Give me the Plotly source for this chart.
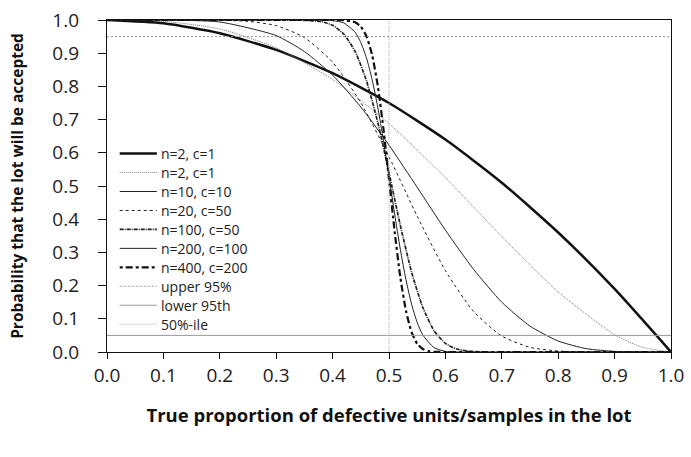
import plotly.graph_objects as go

# ---- data ----
x_n2 = [0, 0.1, 0.2, 0.3, 0.4, 0.5, 0.6, 0.7, 0.8, 0.9, 1.0]
y_n2 = [1.0, 0.99, 0.96, 0.91, 0.84, 0.75, 0.64, 0.51, 0.36, 0.19, 0.0]

x_n2b = [0, 0.1, 0.2, 0.3, 0.4, 0.5, 0.6, 0.7, 0.8, 0.9, 0.95, 1.0]
y_n2b = [1.0, 0.996, 0.973, 0.916, 0.821, 0.688, 0.525, 0.348, 0.181, 0.052, 0.014, 0.0]

x_n10 = [0, 0.1, 0.2, 0.3, 0.35, 0.4, 0.45, 0.5, 0.55, 0.6, 0.65, 0.7, 0.75, 0.8, 0.85, 0.9, 0.95, 1.0]
y_n10 = [1.0, 1.0, 0.994, 0.953, 0.905, 0.834, 0.738, 0.623, 0.496, 0.367, 0.249, 0.150, 0.078, 0.033, 0.010, 0.002, 0.0, 0.0]

x_n20 = [0, 0.15, 0.2, 0.25, 0.3, 0.35, 0.4, 0.45, 0.5, 0.55, 0.6, 0.65, 0.7, 0.75, 0.8, 0.85, 0.9, 1.0]
y_n20 = [1.0, 1.0, 0.999, 0.996, 0.983, 0.947, 0.873, 0.751, 0.588, 0.409, 0.245, 0.122, 0.048, 0.014, 0.003, 0.0, 0.0, 0.0]

x_n100 = [0, 0.3, 0.35, 0.38, 0.4, 0.42, 0.44, 0.46, 0.48, 0.5, 0.52, 0.54, 0.56, 0.58, 0.6, 0.62, 0.64, 0.66, 0.7, 1.0]
y_n100 = [1.0, 1.0, 0.999, 0.995, 0.984, 0.957, 0.905, 0.817, 0.692, 0.540, 0.382, 0.241, 0.134, 0.064, 0.026, 0.009, 0.003, 0.0005, 0.0, 0.0]

x_n200 = [0, 0.35, 0.4, 0.42, 0.44, 0.45, 0.46, 0.47, 0.48, 0.49, 0.5, 0.51, 0.52, 0.53, 0.54, 0.55, 0.56, 0.58, 0.6, 0.62, 1.0]
y_n200 = [1.0, 1.0, 0.998, 0.991, 0.963, 0.932, 0.886, 0.821, 0.738, 0.638, 0.528, 0.416, 0.310, 0.218, 0.144, 0.089, 0.051, 0.013, 0.002, 0.0, 0.0]

x_n400 = [0, 0.4, 0.42, 0.44, 0.45, 0.46, 0.47, 0.48, 0.49, 0.5, 0.51, 0.52, 0.53, 0.54, 0.55, 0.56, 0.57, 0.58, 0.6, 1.0]
y_n400 = [1.0, 1.0, 0.9995, 0.993, 0.980, 0.951, 0.895, 0.803, 0.674, 0.520, 0.363, 0.226, 0.125, 0.060, 0.025, 0.009, 0.003, 0.0006, 0.0, 0.0]

upper_level = 0.95
lower_level = 0.05
median_p = 0.5

x_ticks = [0.0, 0.1, 0.2, 0.3, 0.4, 0.5, 0.6, 0.7, 0.8, 0.9, 1.0]
y_ticks = [0.0, 0.1, 0.2, 0.3, 0.4, 0.5, 0.6, 0.7, 0.8, 0.9, 1.0]

# ---- layout constants (pixels) ----
W, H = 691, 457
ML, MR, MT, MB = 107, 7, 14, 105
PW, PH = W - ML - MR, H - MT - MB

FONT = "Open Sans"

# ---- figure ----
fig = go.Figure()

styles = []  # (name, color, width, dash)

def add(x, y, name, color, width, dash, spline=True):
    fig.add_trace(go.Scatter(x=x, y=y, mode="lines", name=name, showlegend=False,
                             line=dict(color=color, width=width, dash=dash,
                                       shape="spline" if spline else "linear", smoothing=0.6)))
    styles.append((name, color, width, dash))

add(x_n2, y_n2, "n=2, c=1", "#111111", 2.5, "solid")
add(x_n2b, y_n2b, "n=2, c=1", "#777777", 1.0, "1px,1px")
add(x_n10, y_n10, "n=10, c=10", "#222222", 1.0, "solid")
add(x_n20, y_n20, "n=20, c=50", "#222222", 1.0, "3px,3px")
add(x_n100, y_n100, "n=100, c=50", "#222222", 1.7, "4px,1px,1px,1px")
add(x_n200, y_n200, "n=200, c=100", "#222222", 1.0, "solid")
add(x_n400, y_n400, "n=400, c=200", "#111111", 2.2, "3px,3px,7px,3px")
add([0, 1], [upper_level, upper_level], "upper 95%", "#999999", 1.0, "2px,2px", False)
add([0, 1], [lower_level, lower_level], "lower 95th", "#9a9a9a", 1.0, "solid", False)
add([median_p, median_p], [0, 1], "50%-ile", "#b0b0b0", 1.0, "1px,1px", False)

# ---- hand-placed legend (inside plot, upper-left) ----
leg_top_px = 150      # y pixel of first entry (figure coords)
leg_step_px = 19.3
line_x0_px, line_x1_px, text_x_px = 120, 158, 161

def px_to_paper_x(px):
    return (px - ML) / PW

def px_to_paper_y(py):
    return (H - MB - py) / PH

for i, (name, color, width, dash) in enumerate(styles):
    yp = px_to_paper_y(leg_top_px + i * leg_step_px)
    fig.add_shape(type="line", xref="paper", yref="paper",
                  x0=px_to_paper_x(line_x0_px), x1=px_to_paper_x(line_x1_px), y0=yp, y1=yp,
                  line=dict(color=color, width=width, dash=dash))
    fig.add_annotation(xref="paper", yref="paper", x=px_to_paper_x(text_x_px), y=yp,
                       text=name, showarrow=False, xanchor="left", yanchor="middle",
                       borderpad=0, font=dict(family=FONT, size=14, color="#222222"))

axis_common = dict(
    range=[0, 1], showgrid=False, zeroline=False,
    showline=True, linecolor="#111111", linewidth=1.3, mirror=True,
    ticks="outside", tickcolor="#111111", tickwidth=1,
    tickformat=".1f", ticklabeloverflow="allow",
    tickfont=dict(family=FONT, size=19, color="#222222"),
)

fig.update_xaxes(**axis_common, tickvals=x_ticks, ticklen=6, ticklabelstandoff=0,
                 title=dict(text="<b>True proportion of defective units/samples in the lot</b>",
                            font=dict(family=FONT, size=18.5, color="#111111"), standoff=22))
fig.update_yaxes(**axis_common, tickvals=y_ticks, ticklen=8, ticklabelstandoff=15,
                 title=dict(text="<b>Probability that the lot will be accepted</b>",
                            font=dict(family=FONT, size=15.5, color="#111111"), standoff=24))

fig.update_layout(
    width=W, height=H,
    margin=dict(l=ML, r=MR, t=MT, b=MB),
    paper_bgcolor="white", plot_bgcolor="white",
    showlegend=False,
)

fig.write_html("out.html", config={"displayModeBar": False},
               post_script="document.body.style.margin='0';")
